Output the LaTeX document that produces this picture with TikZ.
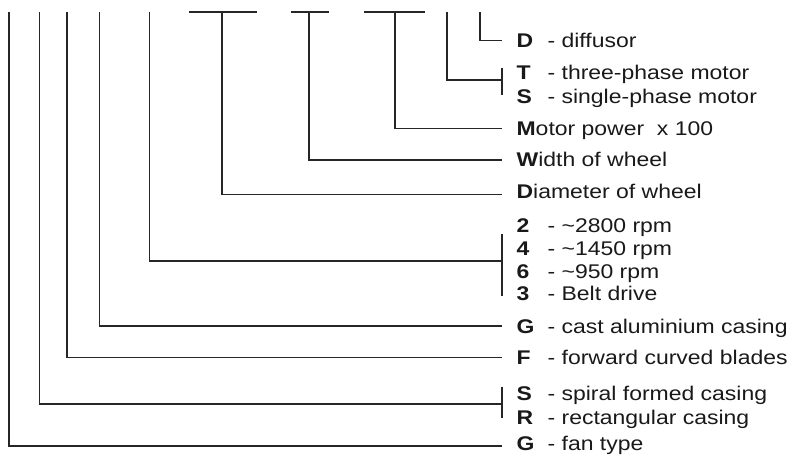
\documentclass[tikz,border=0pt]{standalone}
\usepackage{fontspec}
\setmainfont[FakeStretch=1.16]{Liberation Sans}
\newcommand\entry[2]{\makebox[31pt][l]{\textbf{#1}}- #2}
\tikzset{txt/.style={anchor=base west,inner sep=0pt,text=black!90,font=\fontsize{19.8}{23}\selectfont}}
\begin{document}
\begin{tikzpicture}[x=1pt,y=-1pt,line width=1.2pt,draw=black!85]
\useasboundingbox (0,0) rectangle (791,455);
\coordinate (c1) at (9,12);
\coordinate (c2) at (39.5,12);
\coordinate (c3) at (67,12);
\coordinate (c4) at (99.5,12);
\coordinate (c5) at (149.5,12);
\coordinate (c6) at (222,12);
\coordinate (c7) at (309,12);
\coordinate (c8) at (395,12);
\coordinate (c9) at (447,12);
\coordinate (c10) at (480,12);
\coordinate (e1) at (502,446);
\coordinate (e2) at (502,404);
\coordinate (e3) at (502,357.3);
\coordinate (e4) at (502,326);
\coordinate (e5) at (502,261);
\coordinate (e6) at (502,194.7);
\coordinate (e7) at (502,160);
\coordinate (e8) at (502,128.3);
\coordinate (e9) at (502,80);
\coordinate (e10) at (502,40.3);
\node[txt] (dif) at (516,47) {\entry{D}{diffusor}};
\node[txt] (tph) at (516,79) {\entry{T}{three-phase motor}};
\node[txt] (sph) at (516,103) {\entry{S}{single-phase motor}};
\node[txt] (pow) at (516,135) {\textbf{M}otor power\ \ x 100};
\node[txt] (wid) at (516,166) {\textbf{W}idth of wheel};
\node[txt] (dia) at (516,198) {\textbf{D}iameter of wheel};
\node[txt] (r2) at (516,232) {\entry{2}{\textasciitilde 2800 rpm}};
\node[txt] (r4) at (516,255) {\entry{4}{\textasciitilde 1450 rpm}};
\node[txt] (r6) at (516,278) {\entry{6}{\textasciitilde 950 rpm}};
\node[txt] (r3) at (516,300) {\entry{3}{Belt drive}};
\node[txt] (cas) at (516,333.3) {\entry{G}{cast aluminium casing}};
\node[txt] (bla) at (516,364.3) {\entry{F}{forward curved blades}};
\node[txt] (spi) at (516,400) {\entry{S}{spiral formed casing}};
\node[txt] (rec) at (516,424) {\entry{R}{rectangular casing}};
\node[txt] (fan) at (516,450.7) {\entry{G}{fan type}};
\draw (c1) |- (e1);
\draw (c2) |- (e2);
\draw (c3) |- (e3);
\draw (c4) |- (e4);
\draw (c5) |- (e5);
\draw (c6) |- (e6);
\draw (c7) |- (e7);
\draw (c8) |- (e8);
\draw (c9) |- (e9);
\draw (c10) |- (e10);
\draw (189,12) -- (257,12);
\draw (291,12) -- (329,12);
\draw (364,12) -- (425,12);
\draw (502,67.7) -- (502,95);
\draw (502,234) -- (502,296);
\draw (502,386.7) -- (502,417.7);
\end{tikzpicture}
\end{document}
